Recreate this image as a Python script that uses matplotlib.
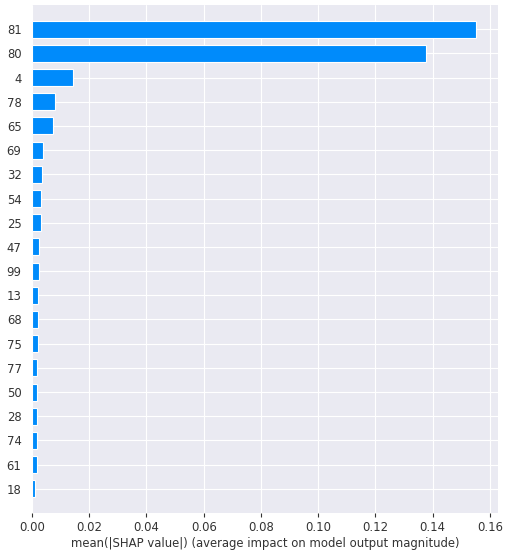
import matplotlib
matplotlib.use('Agg')
import matplotlib.pyplot as plt
import seaborn as sns

sns.set_style('darkgrid')
plt.rcParams['font.family'] = ['DejaVu Sans']

# features, most important first
features = ['81', '80', '4', '78', '65', '69', '32', '54', '25', '47',
            '99', '13', '68', '75', '77', '50', '28', '74', '61', '18']
mean_shap = [0.1550, 0.1376, 0.0142, 0.0080, 0.0074, 0.0040, 0.0034, 0.0030,
             0.0030, 0.0024, 0.0024, 0.0021, 0.0021, 0.0021, 0.0017, 0.0017,
             0.0018, 0.0018, 0.0018, 0.0012]
xticks = [0.00, 0.02, 0.04, 0.06, 0.08, 0.10, 0.12, 0.14, 0.16]

fig = plt.figure(figsize=(5.08, 5.5), dpi=100)
ax = fig.add_axes([32 / 508, 1 - 513 / 550, (498 - 32) / 508, (513 - 5) / 550])

ypos = list(range(len(features)))[::-1]
ax.barh(ypos, mean_shap, height=0.7, color='#008bfb', edgecolor='white',
        linewidth=0.8, zorder=3)

ax.set_yticks(ypos)
ax.set_yticklabels(features, fontsize=8.4, color='#333333')
ax.set_ylim(-1, len(features))
ax.set_xlim(0, 0.1628)
ax.set_xticks(xticks)
ax.set_xticklabels(['%.2f' % t for t in xticks], fontsize=8.4, color='#333333')
ax.tick_params(axis='x', bottom=True, length=3, width=0.8, color='#333333', pad=3)
ax.tick_params(axis='y', left=False, pad=4)
for s in ax.spines.values():
    s.set_visible(False)

ax.set_xlabel('mean(|SHAP value|) (average impact on model output magnitude)',
              fontsize=8.4, color='#333333', labelpad=2)

fig.savefig('out.png', dpi=100)
